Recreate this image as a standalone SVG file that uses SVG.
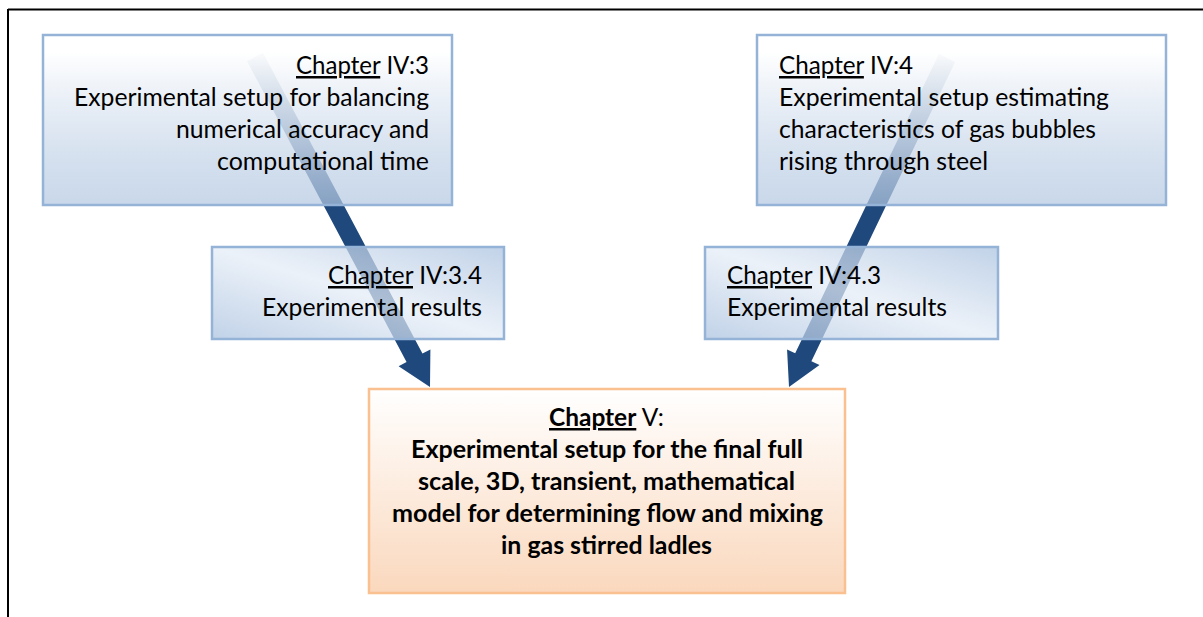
<svg xmlns="http://www.w3.org/2000/svg" width="1203" height="617" viewBox="0 0 1203 617">
<defs>
<linearGradient id="gTop" x1="0" y1="0" x2="0" y2="1">
<stop offset="0" stop-color="#FFFFFF" stop-opacity="1"/>
<stop offset="0.1" stop-color="#FFFFFF" stop-opacity="0.98"/>
<stop offset="1" stop-color="#B2C7E1" stop-opacity="0.7"/>
</linearGradient>
<linearGradient id="gMid" x1="1" y1="0" x2="0" y2="1">
<stop offset="0" stop-color="#A9C1DF" stop-opacity="0.72"/>
<stop offset="0.5" stop-color="#E4ECF6" stop-opacity="0.72"/>
<stop offset="1" stop-color="#A9C1DF" stop-opacity="0.72"/>
</linearGradient>
<linearGradient id="gOrange" x1="0" y1="0" x2="0" y2="1">
<stop offset="0" stop-color="#FFFFFF"/>
<stop offset="1" stop-color="#FAD8BD"/>
</linearGradient>
</defs>
<style>
.frame{stroke:#000;stroke-width:2;fill:none}
.blue{stroke:#95B3D7;stroke-width:2.5}
.orange{stroke:#FAC090;stroke-width:2.5}
.t{font-family:Lato,Carlito,"Open Sans",sans-serif;font-size:25px;fill:#000}
.b{font-weight:bold}
.u{text-decoration:underline}
.arrow{fill:#1F497D}
</style>
<g id="frame">
<line class="frame" x1="8" y1="9.5" x2="1203" y2="9.5"/>
<line class="frame" x1="8" y1="9" x2="8" y2="617"/>
</g>
<g id="connectors">
<polygon class="arrow" points="262.95,52.78 422.45,353.58 430.4,349.4 430,387 398.6,366.2 406.55,362.02 247.05,61.22"/>
<polygon class="arrow" points="955.11,61.9 811.4,361.15 819.52,365.04 789,387 787.06,349.46 795.18,353.35 938.89,54.1"/>
</g>
<g id="node-iv3">
<rect class="blue" x="43" y="35" width="409" height="170" fill="url(#gTop)"/>
<text class="t" x="296" y="74" textLength="133" lengthAdjust="spacingAndGlyphs"><tspan class="u">Chapter</tspan> IV:3</text>
<text class="t" x="74" y="106" textLength="355" lengthAdjust="spacingAndGlyphs">Experimental setup for balancing</text>
<text class="t" x="176" y="138" textLength="253" lengthAdjust="spacingAndGlyphs">numerical accuracy and</text>
<text class="t" x="217" y="170" textLength="212" lengthAdjust="spacingAndGlyphs">computational time</text>
</g>
<g id="node-iv4">
<rect class="blue" x="757" y="35" width="409" height="170" fill="url(#gTop)"/>
<text class="t" x="779" y="74" textLength="134" lengthAdjust="spacingAndGlyphs"><tspan class="u">Chapter</tspan> IV:4</text>
<text class="t" x="779" y="106" textLength="330" lengthAdjust="spacingAndGlyphs">Experimental setup estimating</text>
<text class="t" x="779" y="138" textLength="317" lengthAdjust="spacingAndGlyphs">characteristics of gas bubbles</text>
<text class="t" x="779" y="170" textLength="209" lengthAdjust="spacingAndGlyphs">rising through steel</text>
</g>
<g id="node-iv34">
<rect class="blue" x="212" y="247" width="292" height="92" fill="url(#gMid)"/>
<text class="t" x="328" y="284" textLength="154" lengthAdjust="spacingAndGlyphs"><tspan class="u">Chapter</tspan> IV:3.4</text>
<text class="t" x="262" y="316" textLength="220" lengthAdjust="spacingAndGlyphs">Experimental results</text>
</g>
<g id="node-iv43">
<rect class="blue" x="705" y="247" width="293" height="92" fill="url(#gMid)"/>
<text class="t" x="727" y="284" textLength="154" lengthAdjust="spacingAndGlyphs"><tspan class="u">Chapter</tspan> IV:4.3</text>
<text class="t" x="727" y="316" textLength="220" lengthAdjust="spacingAndGlyphs">Experimental results</text>
</g>
<g id="node-v">
<rect class="orange" x="369" y="389" width="476" height="204" fill="url(#gOrange)"/>
<text class="t" x="549" y="426" textLength="115" lengthAdjust="spacingAndGlyphs"><tspan class="u b">Chapter</tspan> V:</text>
<text class="t b" x="411" y="458" textLength="392" lengthAdjust="spacingAndGlyphs">Experimental setup for the final full</text>
<text class="t b" x="418" y="490" textLength="377" lengthAdjust="spacingAndGlyphs">scale, 3D, transient, mathematical</text>
<text class="t b" x="392" y="522" textLength="431" lengthAdjust="spacingAndGlyphs">model for determining flow and mixing</text>
<text class="t b" x="501" y="554" textLength="211" lengthAdjust="spacingAndGlyphs">in gas stirred ladles</text>
</g>
</svg>
